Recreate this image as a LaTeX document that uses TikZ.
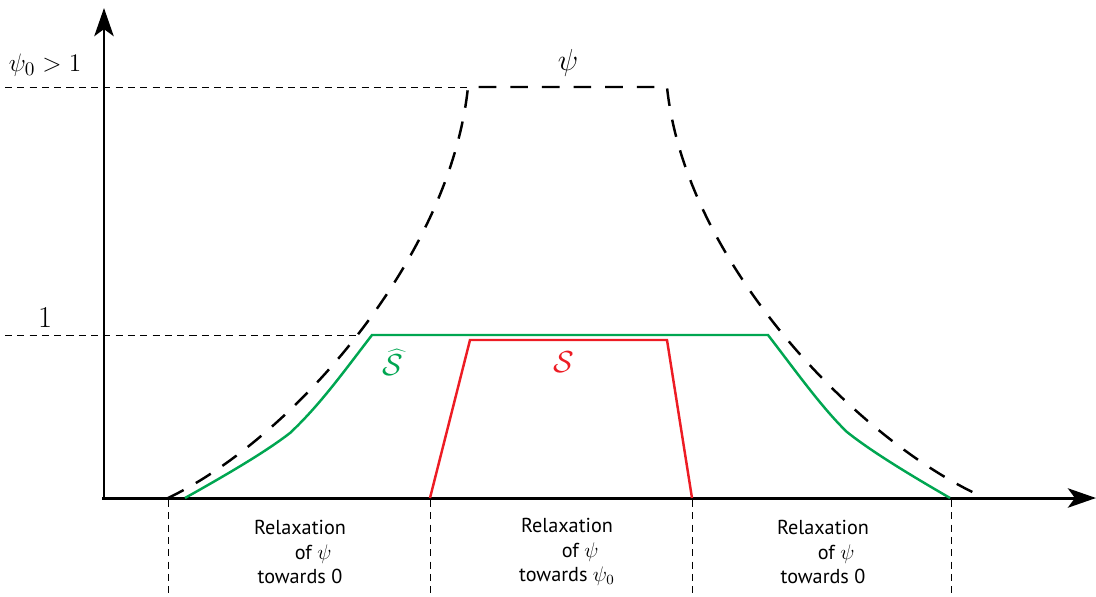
\documentclass[tikz,border=0pt]{standalone}
\usepackage{fontspec}
\setsansfont{PT Sans}
\usetikzlibrary{arrows.meta}
\definecolor{shatgreen}{RGB}{0,166,81}
\definecolor{sred}{RGB}{237,28,36}

\begin{document}
\begin{tikzpicture}[x=0.02cm, y=-0.02cm,
  axis/.style={line width=1.7pt, -{Stealth[length=16pt, width=11pt, inset=4pt]}},
  guide/.style={line width=0.5pt, dash pattern=on 4pt off 3pt},
  psicurve/.style={line width=1.4pt, dash pattern=on 10pt off 8pt},
  zone/.style={align=center, font=\sffamily\fontsize{11.5}{13.8}\selectfont}]
  \useasboundingbox (0,0) rectangle (1096,596);

  % Guides and levels
  \draw[guide] (5,87) -- (468,87);
  \draw[guide] (5,335) -- (358,335);
  \foreach \xx in {168,430,692,951}
    \draw[guide] (\xx,500) -- (\xx,596);

  % Axes
  \draw[axis] (104,498) -- (104,8);
  \draw[axis] (102,498) -- (1096,498);

  % psi (dashed)
  \draw[psicurve] (168,498) .. controls (290,440) and (450,260) .. (468,87)
    -- (667,87) .. controls (685,260) and (855,440) .. (985,498);

  % S hat (green)
  \draw[line width=1.4pt, shatgreen] (185,498) .. controls (235,470) and (268,450) .. (290,433)
    .. controls (320,405) and (345,370) .. (372,335) -- (768,335)
    .. controls (795,370) and (822,408) .. (847,432)
    .. controls (872,452) and (912,476) .. (950,498);

  % S (red)
  \draw[line width=1.4pt, sred] (430,498) -- (470,340) -- (667,340) -- (692,498);

  % Labels
  \node[font=\fontsize{15}{18}\selectfont] (psizero) at (45,65) {$\psi_0 > 1$};
  \node[font=\fontsize{19}{22}\selectfont] (one) at (45,318) {$1$};
  \node[font=\fontsize{19}{22}\selectfont] (psilbl) at (568,63) {$\psi$};
  \node[font=\fontsize{16}{20}\selectfont, text=shatgreen] (shat) at (393,362) {$\widehat{\mathcal{S}}$};
  \node[font=\fontsize{16}{20}\selectfont, text=sred] (slbl) at (564,362) {$\mathcal{S}$};

  \node[zone] (leftzone) at (300,552) {Relaxation\\\hspace*{1.3em}of $\psi$\\towards 0};
  \node[zone] (midzone) at (567,552) {Relaxation\\\hspace*{1.3em}of $\psi$\\towards $\psi_0$};
  \node[zone] (rightzone) at (823,552) {Relaxation\\\hspace*{1.3em}of $\psi$\\towards 0};
\end{tikzpicture}
\end{document}
